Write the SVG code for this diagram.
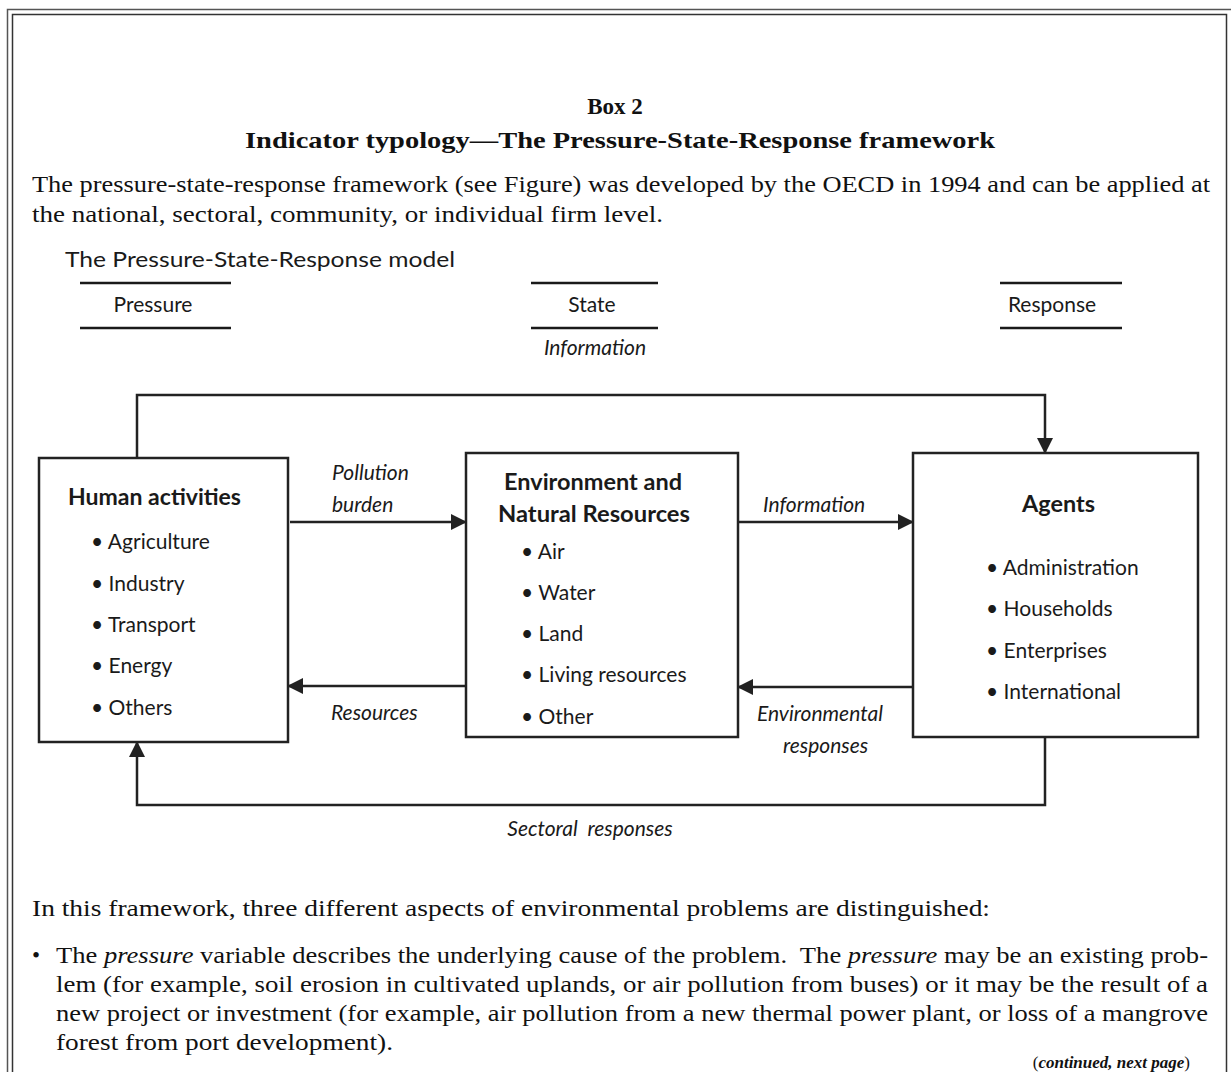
<svg xmlns="http://www.w3.org/2000/svg" width="1231" height="1072" viewBox="0 0 1231 1072">
<style>
.serif{font-family:"Liberation Serif","Times New Roman",serif;fill:#111;}
.sans{font-family:Lato,"Open Sans","Liberation Sans",sans-serif;fill:#1a1a1a;}
.box{fill:#fff;stroke:#222;stroke-width:2.5;}
.conn{fill:none;stroke:#222;stroke-width:2.5;}
.hl{stroke:#1a1a1a;stroke-width:2.5;}
.it{font-style:italic;}
.b{font-weight:bold;}
</style>
<defs>
<marker id="ah" markerWidth="16" markerHeight="16" viewBox="0 0 16 16" refX="15" refY="8" orient="auto" markerUnits="userSpaceOnUse">
<path d="M0,0 L16,8 L0,16 Z" fill="#222"/>
</marker>
</defs>
<rect width="1231" height="1072" fill="#fff"/>
<g id="frame" fill="none">
<path d="M7.5,1072 V9.5 H1231" stroke="#555" stroke-width="1.5"/>
<path d="M12.5,1072 V14.5 H1226.5 V1072" stroke="#333" stroke-width="1.5"/>
</g>
<g id="header">
<text class="serif b" x="615" y="114" font-size="23" text-anchor="middle">Box 2</text>
<text class="serif b" x="620" y="148" font-size="23" text-anchor="middle" textLength="750" lengthAdjust="spacingAndGlyphs">Indicator typology—The Pressure-State-Response framework</text>
<text class="serif" x="32" y="192" font-size="23" textLength="1178" lengthAdjust="spacingAndGlyphs">The pressure-state-response framework (see Figure) was developed by the OECD in 1994 and can be applied at</text>
<text class="serif" x="32" y="222" font-size="23" textLength="631" lengthAdjust="spacingAndGlyphs">the national, sectoral, community, or individual firm level.</text>
<text class="sans" x="65" y="267" font-size="21" textLength="390" lengthAdjust="spacingAndGlyphs">The Pressure-State-Response model</text>
</g>
<g id="columns">
<line class="hl" x1="80" y1="283" x2="231" y2="283"/>
<line class="hl" x1="80" y1="328" x2="231" y2="328"/>
<text class="sans" x="153" y="312" font-size="21" text-anchor="middle">Pressure</text>
<line class="hl" x1="531" y1="283" x2="658" y2="283"/>
<line class="hl" x1="531" y1="328" x2="658" y2="328"/>
<text class="sans" x="592" y="312" font-size="21" text-anchor="middle">State</text>
<line class="hl" x1="1000" y1="283" x2="1122" y2="283"/>
<line class="hl" x1="1000" y1="328" x2="1122" y2="328"/>
<text class="sans" x="1052" y="312" font-size="21" text-anchor="middle">Response</text>
</g>
<g id="connectors">
<path class="conn" d="M137,458 V395 H1045 V453" marker-end="url(#ah)"/>
<line class="conn" x1="290" y1="522" x2="466" y2="522" marker-end="url(#ah)"/>
<line class="conn" x1="738" y1="522" x2="913" y2="522" marker-end="url(#ah)"/>
<line class="conn" x1="466" y1="686" x2="288" y2="686" marker-end="url(#ah)"/>
<line class="conn" x1="913" y1="687" x2="738" y2="687" marker-end="url(#ah)"/>
<path class="conn" d="M1045,737 V805 H137 V742" marker-end="url(#ah)"/>
<text class="sans it" x="595" y="355" font-size="21" text-anchor="middle">Information</text>
<text class="sans it" x="332" y="480" font-size="21">Pollution</text>
<text class="sans it" x="332" y="512" font-size="21">burden</text>
<text class="sans it" x="763" y="512" font-size="21">Information</text>
<text class="sans it" x="331" y="720" font-size="21">Resources</text>
<text class="sans it" x="757" y="721" font-size="21">Environmental</text>
<text class="sans it" x="783" y="753" font-size="21">responses</text>
<text class="sans it" x="590" y="836" font-size="21" text-anchor="middle" xml:space="preserve">Sectoral  responses</text>
</g>
<g id="human-activities">
<rect class="box" x="39" y="458" width="249" height="284"/>
<text class="sans b" x="68" y="505" font-size="22" textLength="173" lengthAdjust="spacingAndGlyphs">Human activities</text>
<text class="sans" font-size="21">
<tspan x="91" y="549">• Agriculture</tspan>
<tspan x="91" y="591">• Industry</tspan>
<tspan x="91" y="632">• Transport</tspan>
<tspan x="91" y="673">• Energy</tspan>
<tspan x="91" y="715">• Others</tspan>
</text>
</g>
<g id="environment">
<rect class="box" x="466" y="453" width="272" height="284"/>
<text class="sans b" x="504" y="490" font-size="22" textLength="178" lengthAdjust="spacingAndGlyphs">Environment and</text>
<text class="sans b" x="498" y="522" font-size="22" textLength="192" lengthAdjust="spacingAndGlyphs">Natural Resources</text>
<text class="sans" font-size="21">
<tspan x="521" y="559">• Air</tspan>
<tspan x="521" y="600">• Water</tspan>
<tspan x="521" y="641">• Land</tspan>
<tspan x="521" y="682">• Living resources</tspan>
<tspan x="521" y="724">• Other</tspan>
</text>
</g>
<g id="agents">
<rect class="box" x="913" y="453" width="285" height="284"/>
<text class="sans b" x="1022" y="512" font-size="22" textLength="73" lengthAdjust="spacingAndGlyphs">Agents</text>
<text class="sans" font-size="21">
<tspan x="986" y="575">• Administration</tspan>
<tspan x="986" y="616">• Households</tspan>
<tspan x="986" y="658">• Enterprises</tspan>
<tspan x="986" y="699">• International</tspan>
</text>
</g>
<g id="body">
<text class="serif" x="32" y="916" font-size="23" textLength="958" lengthAdjust="spacingAndGlyphs">In this framework, three different aspects of environmental problems are distinguished:</text>
<text class="serif" x="32" y="963" font-size="23">•</text>
<text class="serif" x="56" y="963" font-size="23" textLength="1152" lengthAdjust="spacingAndGlyphs" xml:space="preserve">The <tspan class="it">pressure</tspan> variable describes the underlying cause of the problem.  The <tspan class="it">pressure</tspan> may be an existing prob-</text>
<text class="serif" x="56" y="992" font-size="23" textLength="1152" lengthAdjust="spacingAndGlyphs">lem (for example, soil erosion in cultivated uplands, or air pollution from buses) or it may be the result of a</text>
<text class="serif" x="56" y="1021" font-size="23" textLength="1152" lengthAdjust="spacingAndGlyphs">new project or investment (for example, air pollution from a new thermal power plant, or loss of a mangrove</text>
<text class="serif" x="56" y="1050" font-size="23" textLength="337" lengthAdjust="spacingAndGlyphs">forest from port development).</text>
<text class="serif" x="1190" y="1068" font-size="17" text-anchor="end">(<tspan class="it b">continued, next page</tspan>)</text>
</g>
</svg>
